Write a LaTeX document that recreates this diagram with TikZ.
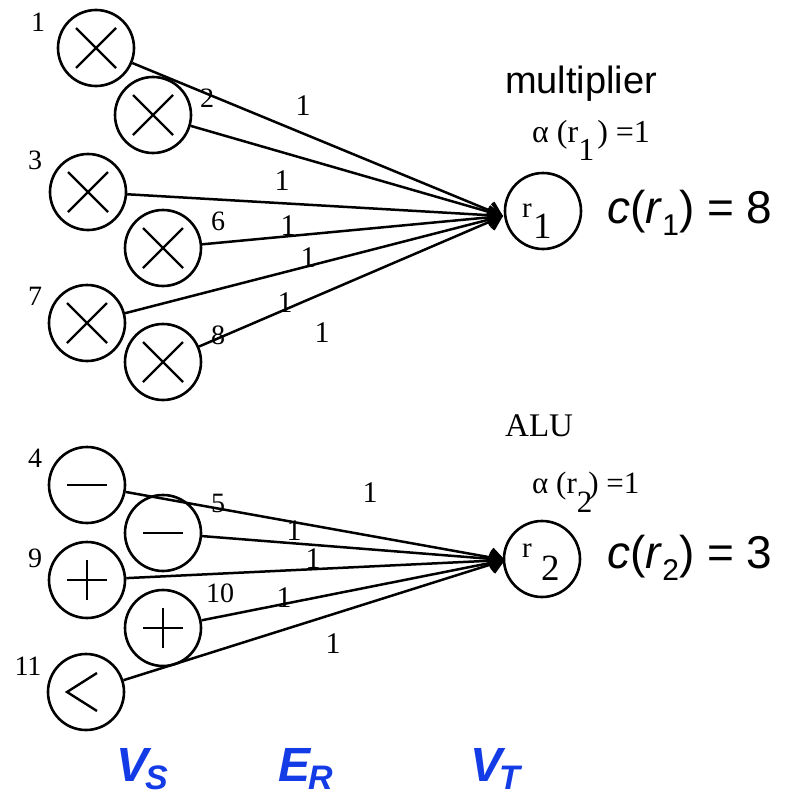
\documentclass[tikz,border=0pt]{standalone}
\usepackage{fontspec}
\setmainfont{Liberation Serif}
\newfontfamily\arialf{Liberation Sans}
\usetikzlibrary{arrows.meta}
\definecolor{vblue}{RGB}{20,60,230}
\newcommand{\fsz}[1]{\fontsize{#1}{#1}\selectfont}
\begin{document}
\begin{tikzpicture}[x=1pt,y=-1pt,
  op/.style={circle,draw,line width=2.6pt,minimum size=76pt,inner sep=0pt},
  symb/.style={line width=2.4pt},
  conn/.style={line width=2.5pt,-{Straight Barb[length=12pt,width=18pt]}},
  num/.style={font=\fsz{28},inner sep=0pt},
  wlab/.style={font=\fsz{30},inner sep=0pt},
  txt/.style={inner sep=0pt,anchor=base west},
  setlab/.style={inner sep=0pt,anchor=base west,text=vblue,font=\arialf\bfseries\itshape\fsz{48}}]
\useasboundingbox (0,0) rectangle (786,795);
% source operation nodes
\node[op] (n1) at (96,48) {};
\node[op] (n2) at (153,115) {};
\node[op] (n3) at (88,192) {};
\node[op] (n6) at (163,248) {};
\node[op] (n7) at (87,323) {};
\node[op] (n8) at (163,362) {};
\node[op] (n4) at (87,485) {};
\node[op] (n5) at (163,533) {};
\node[op] (n9) at (87,580) {};
\node[op] (n10) at (163,628) {};
\node[op] (n11) at (86,692) {};
% symbols
\foreach \n in {n1,n2,n3,n6,n7,n8}
  \draw[symb] ([shift={(-20,-20)}]\n.center) -- ([shift={(20,20)}]\n.center)
              ([shift={(-20,20)}]\n.center) -- ([shift={(20,-20)}]\n.center);
\foreach \n in {n4,n5}
  \draw[symb] ([shift={(-20,0)}]\n.center) -- ([shift={(20,0)}]\n.center);
\foreach \n in {n9,n10}
  \draw[symb] ([shift={(-20,0)}]\n.center) -- ([shift={(20,0)}]\n.center)
              ([shift={(0,-20)}]\n.center) -- ([shift={(0,20)}]\n.center);
\draw[symb] ([shift={(11,-19)}]n11.center) -- ([shift={(-19,0)}]n11.center) -- ([shift={(11,19)}]n11.center);
% node numbers
\node[num] (k1) at (38,22) {1};
\node[num] (k2) at (207,98) {2};
\node[num] (k3) at (35,160) {3};
\node[num] (k6) at (218,221) {6};
\node[num] (k7) at (35,296) {7};
\node[num] (k8) at (218,335) {8};
\node[num] (k4) at (35,458) {4};
\node[num] (k5) at (218,503) {5};
\node[num] (k9) at (35,558) {9};
\node[num] (k10) at (220,593) {10};
\node[num] (k11) at (28,666) {11};
% resource nodes
\node[op] (r1) at (543,211) {};
\node[op] (r2) at (542,559) {};
\coordinate (t1) at (503,216);
\coordinate (t2) at (505,560);
\node[txt,font=\fsz{29}] (r1a) at (522,217) {r};
\node[txt,font=\fsz{37}] (r1b) at (533,238) {1};
\node[txt,font=\fsz{29}] (r2a) at (522,557) {r};
\node[txt,font=\fsz{37}] (r2b) at (541,580) {2};
% edges
\foreach \n in {n1,n2,n3,n6,n7,n8} \draw[conn] (\n) -- (t1);
\foreach \n in {n4,n5,n9,n10,n11} \draw[conn] (\n) -- (t2);
% edge weights
\node[wlab] (w1) at (303,106) {1};
\node[wlab] (w2) at (282,181) {1};
\node[wlab] (w3) at (288,226) {1};
\node[wlab] (w4) at (308,258) {1};
\node[wlab] (w5) at (285,303) {1};
\node[wlab] (w6) at (322,333) {1};
\node[wlab] (w7) at (370,493) {1};
\node[wlab] (w8) at (294,531) {1};
\node[wlab] (w9) at (313,559) {1};
\node[wlab] (w10) at (284,598) {1};
\node[wlab] (w11) at (333,644) {1};
% annotations
\node[txt,font=\arialf\fsz{38}] (mul) at (505,93) {multiplier};
\node[txt,font=\fsz{32}] (al1) at (532,142) {α (r\raisebox{-18pt}{1}\kern3pt) =1};
\node[txt,font=\arialf\fsz{46}] (c1) at (607,223) {\textit{c}(\textit{r}\raisebox{-12pt}{\fsz{30}1}) = 8};
\node[txt,font=\fsz{33}] (alu) at (505,436) {ALU};
\node[txt,font=\fsz{31}] (al2) at (532,493) {α (r\raisebox{-19pt}{2}\kern-4pt) =1};
\node[txt,font=\arialf\fsz{46}] (c2) at (607,568) {\textit{c}(\textit{r}\raisebox{-12pt}{\fsz{30}2}) = 3};
% set labels
\node[setlab] (vs) at (116,781) {V\kern-3pt\raisebox{-8pt}{\fsz{34}S}};
\node[setlab] (er) at (278,781) {E\kern-2pt\raisebox{-8pt}{\fsz{34}R}};
\node[setlab] (vt) at (470,781) {V\kern-3pt\raisebox{-8pt}{\fsz{34}T}};
\end{tikzpicture}
\end{document}
